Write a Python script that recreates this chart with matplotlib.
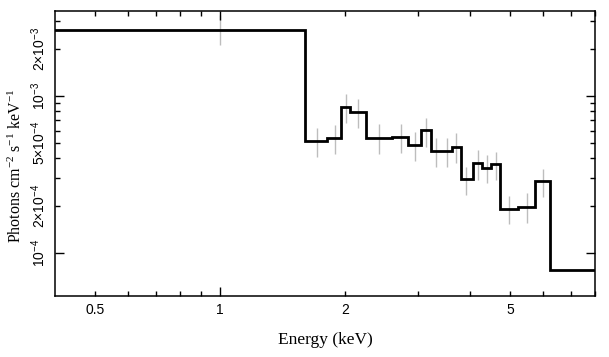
# unfolded X-ray spectrum, photon flux vs energy (log-log)

import numpy as np
import matplotlib as mpl
import matplotlib.pyplot as plt

mpl.rcParams['mathtext.fontset'] = 'custom'
mpl.rcParams['mathtext.rm'] = 'Liberation Serif'
mpl.rcParams['mathtext.sf'] = 'Liberation Sans'
mpl.rcParams['mathtext.it'] = 'Liberation Serif:italic'

# model step: bin edges (keV) and flux per bin
binEdges = [0.35, 1.602, 1.807, 1.957, 2.058, 2.244, 2.593, 2.842, 3.055, 3.224,
            3.609, 3.794, 4.059, 4.272, 4.498, 4.727, 5.216, 5.741, 6.240, 8.5]
binFlux = [2.63e-3, 5.17e-4, 5.42e-4, 8.55e-4, 7.87e-4, 5.38e-4, 5.48e-4, 4.90e-4,
           6.08e-4, 4.46e-4, 4.74e-4, 2.95e-4, 3.74e-4, 3.46e-4, 3.66e-4, 1.90e-4,
           1.97e-4, 2.88e-4, 7.80e-5]

# data error bars: energy, lower and upper flux
errE = [1.0, 1.710, 1.886, 2.009, 2.154, 2.420, 2.720, 2.955, 3.135, 3.320,
        3.510, 3.705, 3.915, 4.174, 4.391, 4.626, 4.971, 5.483, 5.992]
errLo = [2.11e-3, 4.09e-4, 4.27e-4, 6.73e-4, 6.25e-4, 4.27e-4, 4.34e-4, 3.85e-4,
         4.73e-4, 3.53e-4, 3.53e-4, 3.74e-4, 2.34e-4, 2.92e-4, 2.79e-4, 2.92e-4,
         1.53e-4, 1.55e-4, 2.27e-4]
errHi = [3.28e-3, 6.25e-4, 6.54e-4, 1.03e-3, 9.57e-4, 6.63e-4, 6.63e-4, 5.90e-4,
         7.24e-4, 5.40e-4, 5.40e-4, 5.81e-4, 3.53e-4, 4.53e-4, 4.21e-4, 4.40e-4,
         2.31e-4, 2.41e-4, 3.43e-4]

xMajor = [1.0]
xMajorLab = ['1']
xMinor = [0.5, 0.6, 0.7, 0.8, 0.9, 2, 3, 4, 5, 6, 7, 8]
xMinorLab = ['0.5', '', '', '', '', '2', '', '', '5', '', '', '']

yMajor = [1e-4, 1e-3]
yMajorLab = [r'$\mathsf{10^{-4}}$', r'$\mathsf{10^{-3}}$']
yMinor = [2e-4, 3e-4, 4e-4, 5e-4, 6e-4, 7e-4, 8e-4, 9e-4, 2e-3, 3e-3]
yMinorLab = [r'$\mathsf{2{\times}10^{-4}}$', '', '', r'$\mathsf{5{\times}10^{-4}}$',
             '', '', '', '', r'$\mathsf{2{\times}10^{-3}}$', '']


def plotSpec():
    fig = plt.figure(figsize=(6.09, 3.57), dpi=100)
    ax = fig.add_axes([55/609, 1-296/357, 540/609, 285/357])

    ax.vlines(errE, errLo, errHi, color='#bdbdbd', lw=1.0, zorder=1)
    ax.stairs(binFlux, binEdges, baseline=None, color='black', lw=2.0, zorder=2)

    ax.set_xscale('log')
    ax.set_yscale('log')
    ax.set_xlim(0.4, 8.0)
    ax.set_ylim(5.3e-5, 3.48e-3)

    ax.set_xticks(xMajor, xMajorLab)
    ax.set_xticks(xMinor, xMinorLab, minor=True)
    ax.set_yticks(yMajor, yMajorLab)
    ax.set_yticks(yMinor, yMinorLab, minor=True)

    for lab in ax.get_xticklabels(which='both'):
        lab.set_family('Liberation Sans')
    for lab in ax.get_yticklabels(which='both'):
        lab.set_rotation(90)
        lab.set_va('center')

    ax.tick_params(which='both', direction='in', top=True, right=True,
                   labelsize=10, width=1.0, color='black')
    ax.tick_params(which='major', length=6.5)
    ax.tick_params(which='minor', length=3.5)
    ax.tick_params(axis='x', which='both', pad=5)
    ax.tick_params(axis='y', which='both', pad=5)

    for sp in ax.spines.values():
        sp.set_linewidth(1.1)

    ax.set_xlabel('Energy (keV)', family='Liberation Serif', fontsize=12.5)
    ax.set_ylabel(r'Photons cm$^{-2}$ s$^{-1}$ keV$^{-1}$', family='Liberation Serif',
                  fontsize=11.5)
    ax.xaxis.set_label_coords(0.5, -0.126)
    ax.yaxis.set_label_coords(-0.055, 0.456)

    plt.savefig('out.png', dpi=100)


def main():
    plotSpec()


if __name__ == '__main__':
    main()
